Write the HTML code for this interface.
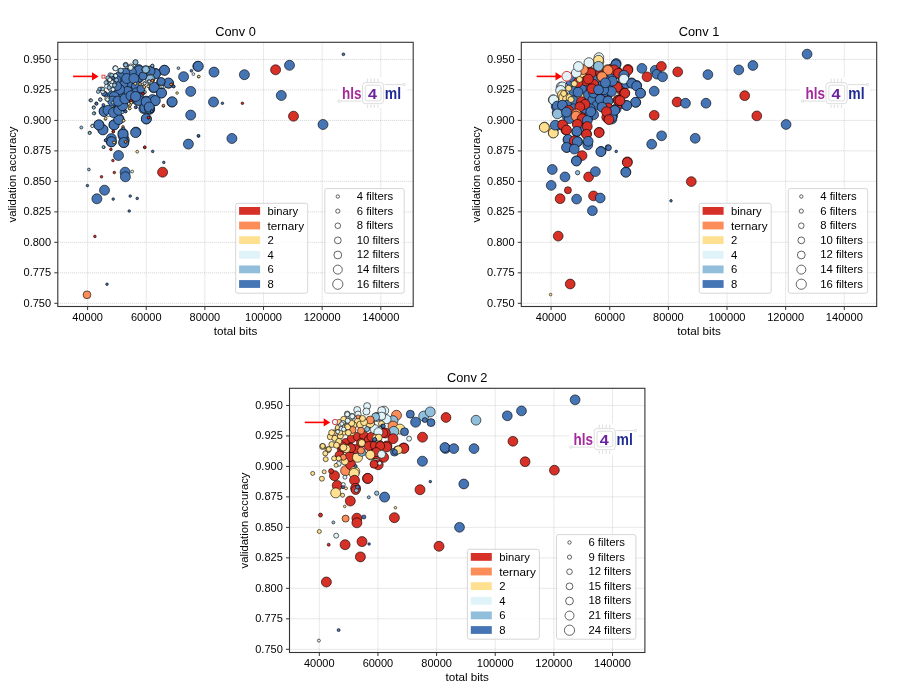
<!DOCTYPE html>
<html><head><meta charset="utf-8"><style>
html,body{margin:0;padding:0;background:#fff;}
body{width:923px;height:691px;overflow:hidden;}
svg{display:block;font-family:"Liberation Sans", sans-serif;will-change:transform;}
</style></head><body>
<svg width="923" height="691" viewBox="0 0 923 691">
<rect width="923" height="691" fill="#fff"/>
<g transform="translate(0.0,0.0)">
<path d="M87.60 42.3V306.5M146.24 42.3V306.5M204.88 42.3V306.5M263.52 42.3V306.5M322.16 42.3V306.5M380.80 42.3V306.5M57.8 59.45H413.2M57.8 89.93H413.2M57.8 120.41H413.2M57.8 150.89H413.2M57.8 181.38H413.2M57.8 211.86H413.2M57.8 242.34H413.2M57.8 272.82H413.2M57.8 303.30H413.2" stroke="#b0b0b0" stroke-width="0.8" stroke-dasharray="1,1" fill="none" opacity="0.7"/>
</g>
<g stroke="#000" stroke-width="0.6">
<circle cx="164.4" cy="70.2" r="5.0" fill="#4575b4"/>
<circle cx="155.6" cy="73.5" r="5.0" fill="#4575b4"/>
<circle cx="151.0" cy="71.5" r="5.0" fill="#4575b4"/>
<circle cx="183.6" cy="76.7" r="5.0" fill="#4575b4"/>
<circle cx="197.8" cy="66.3" r="5.0" fill="#4575b4"/>
<circle cx="168.6" cy="83.2" r="5.0" fill="#4575b4"/>
<circle cx="153.6" cy="87.8" r="5.0" fill="#4575b4"/>
<circle cx="161.4" cy="93.0" r="5.0" fill="#4575b4"/>
<circle cx="190.7" cy="91.4" r="5.0" fill="#4575b4"/>
<circle cx="154.9" cy="100.8" r="5.0" fill="#4575b4"/>
<circle cx="171.9" cy="102.1" r="5.0" fill="#4575b4"/>
<circle cx="146.4" cy="102.1" r="5.0" fill="#4575b4"/>
<circle cx="149.7" cy="109.3" r="5.0" fill="#4575b4"/>
<circle cx="143.8" cy="108.6" r="5.0" fill="#4575b4"/>
<circle cx="146.4" cy="119.0" r="5.0" fill="#4575b4"/>
<circle cx="190.7" cy="115.1" r="5.0" fill="#4575b4"/>
<circle cx="136.0" cy="132.1" r="5.0" fill="#4575b4"/>
<circle cx="123.0" cy="133.4" r="5.0" fill="#4575b4"/>
<circle cx="113.9" cy="124.9" r="5.0" fill="#4575b4"/>
<circle cx="102.8" cy="129.5" r="5.0" fill="#4575b4"/>
<circle cx="98.9" cy="124.9" r="5.0" fill="#4575b4"/>
<circle cx="119.1" cy="119.1" r="5.0" fill="#4575b4"/>
<circle cx="104.1" cy="111.2" r="5.0" fill="#4575b4"/>
<circle cx="115.2" cy="111.2" r="5.0" fill="#4575b4"/>
<circle cx="119.1" cy="108.6" r="5.0" fill="#4575b4"/>
<circle cx="137.3" cy="100.2" r="5.0" fill="#4575b4"/>
<circle cx="113.9" cy="100.8" r="5.0" fill="#4575b4"/>
<circle cx="123.0" cy="102.1" r="5.0" fill="#4575b4"/>
<circle cx="132.1" cy="94.3" r="5.0" fill="#4575b4"/>
<circle cx="138.6" cy="91.7" r="5.0" fill="#4575b4"/>
<circle cx="119.1" cy="93.0" r="5.0" fill="#4575b4"/>
<circle cx="112.6" cy="95.6" r="5.0" fill="#4575b4"/>
<circle cx="124.3" cy="86.5" r="5.0" fill="#4575b4"/>
<circle cx="134.7" cy="86.5" r="5.0" fill="#4575b4"/>
<circle cx="138.6" cy="78.0" r="5.0" fill="#4575b4"/>
<circle cx="129.5" cy="80.0" r="5.0" fill="#4575b4"/>
<circle cx="121.7" cy="82.6" r="5.0" fill="#4575b4"/>
<circle cx="126.9" cy="73.5" r="5.0" fill="#4575b4"/>
<circle cx="134.7" cy="72.2" r="5.0" fill="#4575b4"/>
<circle cx="138.6" cy="69.5" r="5.0" fill="#4575b4"/>
<circle cx="111.3" cy="138.6" r="5.0" fill="#4575b4"/>
<circle cx="124.3" cy="139.9" r="5.0" fill="#4575b4"/>
<circle cx="198.3" cy="66.3" r="5.0" fill="#4575b4"/>
<circle cx="214.0" cy="72.1" r="5.0" fill="#4575b4"/>
<circle cx="244.4" cy="74.7" r="5.0" fill="#4575b4"/>
<circle cx="275.6" cy="69.8" r="5.0" fill="#d73027"/>
<circle cx="289.5" cy="65.3" r="5.0" fill="#4575b4"/>
<circle cx="281.3" cy="95.5" r="5.0" fill="#4575b4"/>
<circle cx="213.5" cy="102.0" r="5.0" fill="#4575b4"/>
<circle cx="293.5" cy="116.2" r="5.0" fill="#d73027"/>
<circle cx="323.0" cy="124.5" r="5.0" fill="#4575b4"/>
<circle cx="231.9" cy="138.5" r="5.0" fill="#4575b4"/>
<circle cx="111.2" cy="141.8" r="5.0" fill="#4575b4"/>
<circle cx="123.8" cy="142.6" r="5.0" fill="#4575b4"/>
<circle cx="123.1" cy="135.8" r="5.0" fill="#4575b4"/>
<circle cx="118.5" cy="155.5" r="5.0" fill="#4575b4"/>
<circle cx="188.4" cy="144.1" r="5.0" fill="#4575b4"/>
<circle cx="125.1" cy="172.2" r="5.0" fill="#4575b4"/>
<circle cx="125.4" cy="176.8" r="5.0" fill="#4575b4"/>
<circle cx="162.6" cy="172.2" r="5.0" fill="#d73027"/>
<circle cx="104.5" cy="190.2" r="5.0" fill="#4575b4"/>
<circle cx="96.9" cy="198.8" r="5.0" fill="#4575b4"/>
<circle cx="138.4" cy="77.2" r="5.0" fill="#4575b4"/>
<circle cx="129.3" cy="82.4" r="5.0" fill="#4575b4"/>
<circle cx="122.8" cy="84.3" r="5.0" fill="#4575b4"/>
<circle cx="136.5" cy="86.3" r="5.0" fill="#4575b4"/>
<circle cx="127.4" cy="91.5" r="5.0" fill="#4575b4"/>
<circle cx="136.5" cy="92.8" r="5.0" fill="#4575b4"/>
<circle cx="119.5" cy="94.0" r="5.0" fill="#4575b4"/>
<circle cx="139.0" cy="70.6" r="5.0" fill="#4575b4"/>
<circle cx="131.3" cy="72.0" r="5.0" fill="#4575b4"/>
<circle cx="124.8" cy="73.2" r="5.0" fill="#4575b4"/>
<circle cx="119.5" cy="76.5" r="5.0" fill="#4575b4"/>
<circle cx="126.7" cy="78.5" r="5.0" fill="#4575b4"/>
<circle cx="133.9" cy="78.5" r="5.0" fill="#4575b4"/>
<circle cx="119.5" cy="89.5" r="5.0" fill="#4575b4"/>
<circle cx="114.3" cy="96.7" r="5.0" fill="#4575b4"/>
<circle cx="131.3" cy="98.0" r="5.0" fill="#4575b4"/>
<circle cx="139.0" cy="98.0" r="5.0" fill="#4575b4"/>
<circle cx="135.6" cy="132.6" r="5.0" fill="#4575b4"/>
<circle cx="123.0" cy="134.1" r="5.0" fill="#4575b4"/>
<circle cx="123.7" cy="142.5" r="5.0" fill="#4575b4"/>
<circle cx="111.5" cy="141.8" r="5.0" fill="#4575b4"/>
<circle cx="114.1" cy="124.9" r="5.0" fill="#4575b4"/>
<circle cx="118.7" cy="119.5" r="5.0" fill="#4575b4"/>
<circle cx="103.0" cy="129.9" r="5.0" fill="#4575b4"/>
<circle cx="98.8" cy="124.9" r="5.0" fill="#4575b4"/>
<circle cx="104.2" cy="111.5" r="5.0" fill="#4575b4"/>
<circle cx="108.0" cy="110.3" r="5.0" fill="#4575b4"/>
<circle cx="113.4" cy="112.6" r="5.0" fill="#4575b4"/>
<circle cx="118.7" cy="110.3" r="5.0" fill="#4575b4"/>
<circle cx="122.6" cy="105.7" r="5.0" fill="#4575b4"/>
<circle cx="112.6" cy="101.1" r="5.0" fill="#4575b4"/>
<circle cx="118.0" cy="101.1" r="5.0" fill="#4575b4"/>
<circle cx="124.9" cy="98.8" r="5.0" fill="#4575b4"/>
<circle cx="138.7" cy="100.4" r="5.0" fill="#4575b4"/>
<circle cx="146.3" cy="101.1" r="5.0" fill="#4575b4"/>
<circle cx="144.8" cy="108.0" r="5.0" fill="#4575b4"/>
<circle cx="149.4" cy="108.8" r="5.0" fill="#4575b4"/>
<circle cx="152.5" cy="99.6" r="5.0" fill="#4575b4"/>
<circle cx="146.3" cy="118.8" r="5.0" fill="#4575b4"/>
<circle cx="131.0" cy="95.8" r="5.0" fill="#4575b4"/>
<circle cx="135.6" cy="96.5" r="5.0" fill="#4575b4"/>
<circle cx="164.5" cy="70.3" r="5.0" fill="#4575b4"/>
<circle cx="155.3" cy="73.8" r="5.0" fill="#4575b4"/>
<circle cx="150.0" cy="71.1" r="5.0" fill="#4575b4"/>
<circle cx="168.4" cy="83.0" r="5.0" fill="#4575b4"/>
<circle cx="154.2" cy="87.2" r="5.0" fill="#4575b4"/>
<circle cx="161.5" cy="93.0" r="5.0" fill="#4575b4"/>
<circle cx="155.3" cy="100.6" r="5.0" fill="#4575b4"/>
<circle cx="146.1" cy="101.8" r="5.0" fill="#4575b4"/>
<circle cx="172.2" cy="101.8" r="5.0" fill="#4575b4"/>
<circle cx="149.2" cy="107.1" r="5.0" fill="#4575b4"/>
<circle cx="150.4" cy="78.7" r="4.5" fill="#91bfdb"/>
<circle cx="116.5" cy="80.0" r="4.5" fill="#4575b4"/>
<circle cx="117.0" cy="86.0" r="4.5" fill="#4575b4"/>
<circle cx="150.0" cy="79.5" r="4.5" fill="#91bfdb"/>
<circle cx="160.8" cy="81.9" r="4.2" fill="#4575b4"/>
<circle cx="145.8" cy="69.5" r="4.0" fill="#91bfdb"/>
<circle cx="143.0" cy="76.0" r="4.0" fill="#4575b4"/>
<circle cx="141.0" cy="89.0" r="4.0" fill="#4575b4"/>
<circle cx="161.1" cy="81.5" r="4.0" fill="#4575b4"/>
<circle cx="87.0" cy="294.8" r="3.9" fill="#fc8d59"/>
<circle cx="145.6" cy="70.0" r="3.5" fill="#91bfdb"/>
<circle cx="145.8" cy="69.6" r="3.5" fill="#91bfdb"/>
<circle cx="130.8" cy="66.9" r="3.0" fill="#e0f3f8"/>
<circle cx="135.4" cy="62.4" r="2.5" fill="#91bfdb"/>
<circle cx="120.4" cy="70.8" r="2.5" fill="#91bfdb"/>
<circle cx="115.2" cy="68.2" r="2.5" fill="#e0f3f8"/>
<circle cx="105.4" cy="94.3" r="2.5" fill="#4575b4"/>
<circle cx="115.6" cy="68.4" r="2.5" fill="#e0f3f8"/>
<circle cx="125.7" cy="64.8" r="2.5" fill="#91bfdb"/>
<circle cx="135.5" cy="62.2" r="2.5" fill="#91bfdb"/>
<circle cx="130.6" cy="67.7" r="2.5" fill="#e0f3f8"/>
<circle cx="120.8" cy="70.6" r="2.5" fill="#91bfdb"/>
<circle cx="110.4" cy="84.3" r="2.5" fill="#e0f3f8"/>
<circle cx="114.3" cy="84.3" r="2.5" fill="#91bfdb"/>
<circle cx="103.9" cy="93.4" r="2.5" fill="#4575b4"/>
<circle cx="107.2" cy="98.8" r="2.5" fill="#e0f3f8"/>
<circle cx="125.6" cy="65.0" r="2.0" fill="#91bfdb"/>
<circle cx="110.0" cy="74.8" r="2.0" fill="#91bfdb"/>
<circle cx="112.6" cy="77.4" r="2.0" fill="#e0f3f8"/>
<circle cx="115.2" cy="75.4" r="2.0" fill="#91bfdb"/>
<circle cx="108.7" cy="80.0" r="2.0" fill="#91bfdb"/>
<circle cx="111.9" cy="81.9" r="2.0" fill="#e0f3f8"/>
<circle cx="107.4" cy="85.2" r="2.0" fill="#91bfdb"/>
<circle cx="111.3" cy="85.2" r="2.0" fill="#e0f3f8"/>
<circle cx="114.5" cy="85.2" r="2.0" fill="#91bfdb"/>
<circle cx="110.0" cy="89.1" r="2.0" fill="#e0f3f8"/>
<circle cx="106.0" cy="82.6" r="2.0" fill="#91bfdb"/>
<circle cx="116.5" cy="80.0" r="2.0" fill="#91bfdb"/>
<circle cx="108.0" cy="78.7" r="2.0" fill="#e0f3f8"/>
<circle cx="115.6" cy="75.8" r="2.0" fill="#e0f3f8"/>
<circle cx="111.7" cy="75.2" r="2.0" fill="#91bfdb"/>
<circle cx="107.8" cy="77.8" r="2.0" fill="#91bfdb"/>
<circle cx="109.8" cy="79.8" r="2.0" fill="#e0f3f8"/>
<circle cx="106.5" cy="86.3" r="2.0" fill="#e0f3f8"/>
<circle cx="109.1" cy="87.6" r="2.0" fill="#91bfdb"/>
<circle cx="113.0" cy="89.5" r="2.0" fill="#e0f3f8"/>
<circle cx="101.3" cy="88.9" r="2.0" fill="#91bfdb"/>
<circle cx="102.6" cy="91.5" r="2.0" fill="#e0f3f8"/>
<circle cx="99.5" cy="89.1" r="1.8" fill="#91bfdb"/>
<circle cx="98.2" cy="91.7" r="1.8" fill="#91bfdb"/>
<circle cx="102.8" cy="89.1" r="1.8" fill="#91bfdb"/>
<circle cx="107.4" cy="99.5" r="1.8" fill="#e0f3f8"/>
<circle cx="100.3" cy="99.6" r="1.8" fill="#e0f3f8"/>
<circle cx="152.3" cy="66.3" r="1.5" fill="#91bfdb"/>
<circle cx="90.4" cy="100.2" r="1.5" fill="#91bfdb"/>
<circle cx="96.3" cy="103.4" r="1.5" fill="#4575b4"/>
<circle cx="93.7" cy="107.3" r="1.5" fill="#91bfdb"/>
<circle cx="100.2" cy="99.5" r="1.5" fill="#91bfdb"/>
<circle cx="94.3" cy="113.2" r="1.5" fill="#91bfdb"/>
<circle cx="89.8" cy="132.7" r="1.5" fill="#91bfdb"/>
<circle cx="92.4" cy="125.6" r="1.5" fill="#e0f3f8"/>
<circle cx="81.3" cy="127.5" r="1.5" fill="#91bfdb"/>
<circle cx="152.4" cy="65.7" r="1.5" fill="#91bfdb"/>
<circle cx="113.0" cy="77.8" r="1.5" fill="#4575b4"/>
<circle cx="148.9" cy="81.1" r="1.5" fill="#e0f3f8"/>
<circle cx="91.1" cy="100.4" r="1.5" fill="#91bfdb"/>
<circle cx="96.5" cy="103.8" r="1.5" fill="#4575b4"/>
<circle cx="93.8" cy="107.7" r="1.5" fill="#91bfdb"/>
<circle cx="93.8" cy="113.4" r="1.5" fill="#91bfdb"/>
<circle cx="103.4" cy="105.0" r="1.5" fill="#4575b4"/>
<circle cx="92.3" cy="126.1" r="1.5" fill="#e0f3f8"/>
<circle cx="89.6" cy="133.0" r="1.5" fill="#91bfdb"/>
<circle cx="152.3" cy="65.7" r="1.5" fill="#91bfdb"/>
<circle cx="178.4" cy="68.2" r="1.4" fill="#91bfdb"/>
<circle cx="191.4" cy="70.8" r="1.4" fill="#4575b4"/>
<circle cx="193.4" cy="74.1" r="1.4" fill="#e0f3f8"/>
<circle cx="173.8" cy="86.5" r="1.4" fill="#4575b4"/>
<circle cx="162.0" cy="87.1" r="1.4" fill="#e0f3f8"/>
<circle cx="164.0" cy="87.1" r="1.4" fill="#e0f3f8"/>
<circle cx="144.5" cy="83.2" r="1.4" fill="#e0f3f8"/>
<circle cx="144.5" cy="92.3" r="1.4" fill="#e0f3f8"/>
<circle cx="151.7" cy="111.2" r="1.4" fill="#4575b4"/>
<circle cx="136.0" cy="107.3" r="1.4" fill="#4575b4"/>
<circle cx="125.6" cy="111.2" r="1.4" fill="#4575b4"/>
<circle cx="198.6" cy="136.0" r="1.4" fill="#4575b4"/>
<circle cx="343.4" cy="54.3" r="1.4" fill="#4575b4"/>
<circle cx="103.8" cy="147.2" r="1.4" fill="#91bfdb"/>
<circle cx="105.6" cy="140.3" r="1.4" fill="#4575b4"/>
<circle cx="137.2" cy="151.7" r="1.4" fill="#fee090"/>
<circle cx="88.9" cy="169.5" r="1.4" fill="#91bfdb"/>
<circle cx="132.2" cy="171.5" r="1.4" fill="#e0f3f8"/>
<circle cx="144.3" cy="83.3" r="1.4" fill="#e0f3f8"/>
<circle cx="145.0" cy="92.1" r="1.4" fill="#91bfdb"/>
<circle cx="112.6" cy="102.7" r="1.4" fill="#91bfdb"/>
<circle cx="135.6" cy="107.3" r="1.4" fill="#4575b4"/>
<circle cx="122.6" cy="112.3" r="1.4" fill="#91bfdb"/>
<circle cx="125.6" cy="111.5" r="1.4" fill="#4575b4"/>
<circle cx="108.4" cy="115.3" r="1.4" fill="#e0f3f8"/>
<circle cx="105.7" cy="140.2" r="1.4" fill="#4575b4"/>
<circle cx="151.7" cy="111.1" r="1.4" fill="#4575b4"/>
<circle cx="103.4" cy="147.1" r="1.4" fill="#91bfdb"/>
<circle cx="149.2" cy="81.5" r="1.4" fill="#e0f3f8"/>
<circle cx="144.6" cy="83.4" r="1.4" fill="#e0f3f8"/>
<circle cx="173.4" cy="86.4" r="1.4" fill="#4575b4"/>
<circle cx="152.3" cy="80.6" r="1.3" fill="#fc8d59"/>
<circle cx="171.2" cy="84.5" r="1.3" fill="#fc8d59"/>
<circle cx="143.2" cy="93.6" r="1.3" fill="#d73027"/>
<circle cx="163.4" cy="106.0" r="1.3" fill="#fc8d59"/>
<circle cx="148.4" cy="117.8" r="1.3" fill="#d73027"/>
<circle cx="177.1" cy="93.0" r="1.3" fill="#fee090"/>
<circle cx="198.6" cy="76.7" r="1.3" fill="#fee090"/>
<circle cx="144.5" cy="87.1" r="1.3" fill="#fee090"/>
<circle cx="148.4" cy="85.8" r="1.3" fill="#fee090"/>
<circle cx="140.6" cy="84.5" r="1.3" fill="#fee090"/>
<circle cx="135.4" cy="83.6" r="1.3" fill="#fee090"/>
<circle cx="131.5" cy="102.8" r="1.3" fill="#fee090"/>
<circle cx="129.5" cy="106.0" r="1.3" fill="#fee090"/>
<circle cx="129.5" cy="108.6" r="1.3" fill="#fee090"/>
<circle cx="123.6" cy="120.4" r="1.3" fill="#fee090"/>
<circle cx="105.4" cy="119.1" r="1.3" fill="#fee090"/>
<circle cx="130.8" cy="100.8" r="1.3" fill="#d73027"/>
<circle cx="113.2" cy="131.4" r="1.3" fill="#d73027"/>
<circle cx="123.0" cy="128.2" r="1.3" fill="#fc8d59"/>
<circle cx="222.4" cy="103.3" r="1.3" fill="#4575b4"/>
<circle cx="242.4" cy="103.3" r="1.3" fill="#d73027"/>
<circle cx="198.3" cy="135.8" r="1.3" fill="#4575b4"/>
<circle cx="198.8" cy="76.5" r="1.3" fill="#fee090"/>
<circle cx="114.0" cy="142.3" r="1.3" fill="#fee090"/>
<circle cx="125.7" cy="141.8" r="1.3" fill="#fc8d59"/>
<circle cx="110.9" cy="149.4" r="1.3" fill="#d73027"/>
<circle cx="144.7" cy="147.5" r="1.3" fill="#d73027"/>
<circle cx="152.7" cy="151.4" r="1.3" fill="#4575b4"/>
<circle cx="112.9" cy="160.5" r="1.3" fill="#d73027"/>
<circle cx="163.8" cy="162.4" r="1.3" fill="#4575b4"/>
<circle cx="114.3" cy="172.5" r="1.3" fill="#d73027"/>
<circle cx="101.5" cy="176.8" r="1.3" fill="#d73027"/>
<circle cx="87.4" cy="185.6" r="1.3" fill="#4575b4"/>
<circle cx="113.2" cy="199.1" r="1.3" fill="#4575b4"/>
<circle cx="130.2" cy="196.1" r="1.3" fill="#4575b4"/>
<circle cx="137.2" cy="198.4" r="1.3" fill="#4575b4"/>
<circle cx="129.2" cy="211.0" r="1.3" fill="#4575b4"/>
<circle cx="94.9" cy="236.4" r="1.3" fill="#d73027"/>
<circle cx="107.0" cy="284.2" r="1.3" fill="#4575b4"/>
<circle cx="152.4" cy="80.4" r="1.3" fill="#fc8d59"/>
<circle cx="135.2" cy="83.7" r="1.3" fill="#fee090"/>
<circle cx="140.0" cy="84.0" r="1.3" fill="#fee090"/>
<circle cx="144.3" cy="86.9" r="1.3" fill="#fee090"/>
<circle cx="148.2" cy="86.3" r="1.3" fill="#fee090"/>
<circle cx="143.0" cy="93.8" r="1.3" fill="#d73027"/>
<circle cx="131.0" cy="100.8" r="1.3" fill="#d73027"/>
<circle cx="131.4" cy="102.7" r="1.3" fill="#fee090"/>
<circle cx="130.2" cy="105.0" r="1.3" fill="#fee090"/>
<circle cx="129.9" cy="108.4" r="1.3" fill="#fee090"/>
<circle cx="105.7" cy="118.4" r="1.3" fill="#fee090"/>
<circle cx="123.7" cy="120.7" r="1.3" fill="#fee090"/>
<circle cx="113.4" cy="131.8" r="1.3" fill="#d73027"/>
<circle cx="123.0" cy="126.8" r="1.3" fill="#fc8d59"/>
<circle cx="123.3" cy="128.4" r="1.3" fill="#4575b4"/>
<circle cx="114.1" cy="142.5" r="1.3" fill="#fee090"/>
<circle cx="125.6" cy="141.8" r="1.3" fill="#fc8d59"/>
<circle cx="148.7" cy="117.6" r="1.3" fill="#d73027"/>
<circle cx="144.8" cy="147.1" r="1.3" fill="#d73027"/>
<circle cx="152.3" cy="80.7" r="1.3" fill="#fc8d59"/>
<circle cx="171.1" cy="84.5" r="1.3" fill="#fc8d59"/>
<circle cx="160.7" cy="86.8" r="1.3" fill="#e0f3f8"/>
<circle cx="162.2" cy="86.8" r="1.3" fill="#e0f3f8"/>
<circle cx="163.4" cy="105.6" r="1.3" fill="#fc8d59"/>
</g>
<g transform="translate(0.0,0.0)">
<rect x="57.8" y="42.3" width="355.40" height="264.20" fill="none" stroke="#333" stroke-width="1.1"/>
<path d="M87.60 306.5V310.0M146.24 306.5V310.0M204.88 306.5V310.0M263.52 306.5V310.0M322.16 306.5V310.0M380.80 306.5V310.0M57.8 59.45H54.3M57.8 89.93H54.3M57.8 120.41H54.3M57.8 150.89H54.3M57.8 181.38H54.3M57.8 211.86H54.3M57.8 242.34H54.3M57.8 272.82H54.3M57.8 303.30H54.3" stroke="#333" stroke-width="1" fill="none"/>
<text x="87.60" y="320.90" font-size="10.2" text-anchor="middle" fill="#000" textLength="30.6" lengthAdjust="spacingAndGlyphs">40000</text>
<text x="146.24" y="320.90" font-size="10.2" text-anchor="middle" fill="#000" textLength="30.6" lengthAdjust="spacingAndGlyphs">60000</text>
<text x="204.88" y="320.90" font-size="10.2" text-anchor="middle" fill="#000" textLength="30.6" lengthAdjust="spacingAndGlyphs">80000</text>
<text x="263.52" y="320.90" font-size="10.2" text-anchor="middle" fill="#000" textLength="37.0" lengthAdjust="spacingAndGlyphs">100000</text>
<text x="322.16" y="320.90" font-size="10.2" text-anchor="middle" fill="#000" textLength="37.0" lengthAdjust="spacingAndGlyphs">120000</text>
<text x="380.80" y="320.90" font-size="10.2" text-anchor="middle" fill="#000" textLength="37.0" lengthAdjust="spacingAndGlyphs">140000</text>
<text x="51.10" y="62.85" font-size="10.2" text-anchor="end" fill="#000" textLength="27.6" lengthAdjust="spacingAndGlyphs">0.950</text>
<text x="51.10" y="93.33" font-size="10.2" text-anchor="end" fill="#000" textLength="27.6" lengthAdjust="spacingAndGlyphs">0.925</text>
<text x="51.10" y="123.81" font-size="10.2" text-anchor="end" fill="#000" textLength="27.6" lengthAdjust="spacingAndGlyphs">0.900</text>
<text x="51.10" y="154.29" font-size="10.2" text-anchor="end" fill="#000" textLength="27.6" lengthAdjust="spacingAndGlyphs">0.875</text>
<text x="51.10" y="184.78" font-size="10.2" text-anchor="end" fill="#000" textLength="27.6" lengthAdjust="spacingAndGlyphs">0.850</text>
<text x="51.10" y="215.26" font-size="10.2" text-anchor="end" fill="#000" textLength="27.6" lengthAdjust="spacingAndGlyphs">0.825</text>
<text x="51.10" y="245.74" font-size="10.2" text-anchor="end" fill="#000" textLength="27.6" lengthAdjust="spacingAndGlyphs">0.800</text>
<text x="51.10" y="276.22" font-size="10.2" text-anchor="end" fill="#000" textLength="27.6" lengthAdjust="spacingAndGlyphs">0.775</text>
<text x="51.10" y="306.70" font-size="10.2" text-anchor="end" fill="#000" textLength="27.6" lengthAdjust="spacingAndGlyphs">0.750</text>
<text x="235.50" y="334.50" font-size="10.2" text-anchor="middle" fill="#000" textLength="43.6" lengthAdjust="spacingAndGlyphs">total bits</text>
<text x="0" y="0" font-size="10.2" text-anchor="middle" textLength="96" lengthAdjust="spacingAndGlyphs" transform="translate(16.0,174.5) rotate(-90)">validation accuracy</text>
<text x="235.50" y="36.00" font-size="12.2" text-anchor="middle" fill="#000" textLength="40.6" lengthAdjust="spacingAndGlyphs">Conv 0</text>
<rect x="337" y="77.5" width="69.5" height="31" fill="#fff"/>
<g fill="none" stroke="#d9d9d9" stroke-width="0.9">
<rect x="362.5" y="82.6" width="21.1" height="21.1" rx="3"/>
<rect x="365.3" y="85.2" width="15.8" height="15.6" rx="2"/>
<path d="M367.6 78.7V81.9M370.9 78.7V81.9M374.4 78.7V81.9M378 78.7V81.9M367.6 104.9V107.8M370.9 104.9V107.8M374.4 104.9V107.8M378 104.9V107.8M340.3 101.1H361.4M384.8 84.6H402.7"/>
<circle cx="339.1" cy="101.1" r="1.2"/><circle cx="403.9" cy="84.6" r="1.2"/>
</g>
<text x="341.9" y="98.6" font-size="15.8" font-weight="bold" fill="#a4299d" textLength="19.5" lengthAdjust="spacingAndGlyphs">hls</text>
<text x="368" y="98.6" font-size="15.2" font-weight="bold" fill="#6a22a0" textLength="9" lengthAdjust="spacingAndGlyphs">4</text>
<text x="384.8" y="98.6" font-size="15.8" font-weight="bold" fill="#1f2b94" textLength="16.3" lengthAdjust="spacingAndGlyphs">ml</text>
<rect x="102.0" y="75.2" width="2.9" height="2.9" fill="#f4f8fa" stroke="#e03a3e" stroke-width="0.9"/>
<path d="M73.1 76.4H93" stroke="#ff0000" stroke-width="1.6" fill="none"/>
<path d="M92 72.3L98.6 76.4L92 80.5Z" fill="#ff0000"/>
<rect x="235.7" y="203.3" width="72" height="89.9" rx="2" fill="#fff" fill-opacity="0.8" stroke="#ccc" stroke-width="0.8"/>
<rect x="239.1" y="207.00" width="21" height="7.8" fill="#d73027"/>
<text x="267.60" y="214.90" font-size="10.2" text-anchor="start" fill="#000" textLength="30.6" lengthAdjust="spacingAndGlyphs">binary</text>
<rect x="239.1" y="221.62" width="21" height="7.8" fill="#fc8d59"/>
<text x="267.60" y="229.52" font-size="10.2" text-anchor="start" fill="#000" textLength="36.5" lengthAdjust="spacingAndGlyphs">ternary</text>
<rect x="239.1" y="236.24" width="21" height="7.8" fill="#fee090"/>
<text x="267.60" y="244.14" font-size="10.2" text-anchor="start" fill="#000" textLength="6.3" lengthAdjust="spacingAndGlyphs">2</text>
<rect x="239.1" y="250.86" width="21" height="7.8" fill="#e0f3f8"/>
<text x="267.60" y="258.76" font-size="10.2" text-anchor="start" fill="#000" textLength="6.3" lengthAdjust="spacingAndGlyphs">4</text>
<rect x="239.1" y="265.48" width="21" height="7.8" fill="#91bfdb"/>
<text x="267.60" y="273.38" font-size="10.2" text-anchor="start" fill="#000" textLength="6.3" lengthAdjust="spacingAndGlyphs">6</text>
<rect x="239.1" y="280.10" width="21" height="7.8" fill="#4575b4"/>
<text x="267.60" y="288.00" font-size="10.2" text-anchor="start" fill="#000" textLength="6.3" lengthAdjust="spacingAndGlyphs">8</text>
<rect x="324.8" y="188.6" width="79.4" height="104.6" rx="2" fill="#fff" fill-opacity="0.8" stroke="#ccc" stroke-width="0.8"/>
<circle cx="337.8" cy="196.50" r="1.7" fill="none" stroke="#222" stroke-width="0.7"/>
<text x="356.70" y="200.00" font-size="10.2" text-anchor="start" fill="#000" textLength="36.5" lengthAdjust="spacingAndGlyphs">4 filters</text>
<circle cx="337.8" cy="211.12" r="2.1" fill="none" stroke="#222" stroke-width="0.7"/>
<text x="356.70" y="214.62" font-size="10.2" text-anchor="start" fill="#000" textLength="36.5" lengthAdjust="spacingAndGlyphs">6 filters</text>
<circle cx="337.8" cy="225.74" r="2.8" fill="none" stroke="#222" stroke-width="0.7"/>
<text x="356.70" y="229.24" font-size="10.2" text-anchor="start" fill="#000" textLength="36.5" lengthAdjust="spacingAndGlyphs">8 filters</text>
<circle cx="337.8" cy="240.36" r="3.4" fill="none" stroke="#222" stroke-width="0.7"/>
<text x="356.70" y="243.86" font-size="10.2" text-anchor="start" fill="#000" textLength="42.8" lengthAdjust="spacingAndGlyphs">10 filters</text>
<circle cx="337.8" cy="254.98" r="3.9" fill="none" stroke="#222" stroke-width="0.7"/>
<text x="356.70" y="258.48" font-size="10.2" text-anchor="start" fill="#000" textLength="42.8" lengthAdjust="spacingAndGlyphs">12 filters</text>
<circle cx="337.8" cy="269.60" r="4.5" fill="none" stroke="#222" stroke-width="0.7"/>
<text x="356.70" y="273.10" font-size="10.2" text-anchor="start" fill="#000" textLength="42.8" lengthAdjust="spacingAndGlyphs">14 filters</text>
<circle cx="337.8" cy="284.22" r="5.1" fill="none" stroke="#222" stroke-width="0.7"/>
<text x="356.70" y="287.72" font-size="10.2" text-anchor="start" fill="#000" textLength="42.8" lengthAdjust="spacingAndGlyphs">16 filters</text>
</g>
<g transform="translate(463.5,0.0)">
<path d="M87.60 42.3V306.5M146.24 42.3V306.5M204.88 42.3V306.5M263.52 42.3V306.5M322.16 42.3V306.5M380.80 42.3V306.5M57.8 59.45H413.2M57.8 89.93H413.2M57.8 120.41H413.2M57.8 150.89H413.2M57.8 181.38H413.2M57.8 211.86H413.2M57.8 242.34H413.2M57.8 272.82H413.2M57.8 303.30H413.2" stroke="#b0b0b0" stroke-width="0.8" stroke-dasharray="1,1" fill="none" opacity="0.7"/>
</g>
<g stroke="#000" stroke-width="0.6">
<circle cx="566.9" cy="147.5" r="4.9" fill="#4575b4"/>
<circle cx="577.7" cy="141.7" r="4.9" fill="#4575b4"/>
<circle cx="567.9" cy="139.7" r="4.9" fill="#4575b4"/>
<circle cx="572.8" cy="141.7" r="4.9" fill="#d73027"/>
<circle cx="586.5" cy="133.9" r="4.9" fill="#d73027"/>
<circle cx="585.5" cy="128.0" r="4.9" fill="#d73027"/>
<circle cx="577.7" cy="124.1" r="4.9" fill="#d73027"/>
<circle cx="576.7" cy="131.9" r="4.9" fill="#4575b4"/>
<circle cx="565.9" cy="130.0" r="4.9" fill="#d73027"/>
<circle cx="562.0" cy="125.1" r="4.9" fill="#d73027"/>
<circle cx="556.2" cy="126.0" r="4.9" fill="#4575b4"/>
<circle cx="544.5" cy="127.0" r="4.9" fill="#fee090"/>
<circle cx="553.2" cy="132.9" r="4.9" fill="#fee090"/>
<circle cx="557.2" cy="112.4" r="4.9" fill="#91bfdb"/>
<circle cx="556.2" cy="106.5" r="4.9" fill="#4575b4"/>
<circle cx="553.2" cy="99.7" r="4.9" fill="#e0f3f8"/>
<circle cx="561.1" cy="87.0" r="4.9" fill="#e0f3f8"/>
<circle cx="563.0" cy="94.8" r="4.9" fill="#fee090"/>
<circle cx="587.4" cy="119.2" r="4.9" fill="#4575b4"/>
<circle cx="575.7" cy="115.3" r="4.9" fill="#fc8d59"/>
<circle cx="569.9" cy="116.3" r="4.9" fill="#4575b4"/>
<circle cx="598.9" cy="61.7" r="4.9" fill="#fee090"/>
<circle cx="598.0" cy="66.5" r="4.9" fill="#91bfdb"/>
<circle cx="562.4" cy="86.9" r="4.9" fill="#e0f3f8"/>
<circle cx="560.6" cy="90.4" r="4.9" fill="#e0f3f8"/>
<circle cx="553.7" cy="100.0" r="4.9" fill="#e0f3f8"/>
<circle cx="558.0" cy="113.0" r="4.9" fill="#91bfdb"/>
<circle cx="557.2" cy="106.0" r="4.9" fill="#4575b4"/>
<circle cx="570.2" cy="86.1" r="4.9" fill="#91bfdb"/>
<circle cx="562.4" cy="94.8" r="4.9" fill="#fee090"/>
<circle cx="563.7" cy="97.4" r="4.9" fill="#fee090"/>
<circle cx="567.6" cy="99.1" r="4.9" fill="#fee090"/>
<circle cx="571.1" cy="98.2" r="4.9" fill="#fee090"/>
<circle cx="575.4" cy="86.1" r="4.9" fill="#fee090"/>
<circle cx="578.9" cy="83.5" r="4.9" fill="#fee090"/>
<circle cx="580.6" cy="95.6" r="4.9" fill="#fee090"/>
<circle cx="582.4" cy="76.5" r="4.9" fill="#fee090"/>
<circle cx="616.2" cy="63.5" r="4.9" fill="#4575b4"/>
<circle cx="621.5" cy="75.6" r="4.9" fill="#4575b4"/>
<circle cx="611.9" cy="77.4" r="4.9" fill="#4575b4"/>
<circle cx="605.8" cy="80.9" r="4.9" fill="#4575b4"/>
<circle cx="597.1" cy="80.0" r="4.9" fill="#4575b4"/>
<circle cx="601.5" cy="86.1" r="4.9" fill="#4575b4"/>
<circle cx="609.3" cy="86.9" r="4.9" fill="#4575b4"/>
<circle cx="607.6" cy="93.9" r="4.9" fill="#4575b4"/>
<circle cx="603.2" cy="93.0" r="4.9" fill="#4575b4"/>
<circle cx="585.8" cy="86.9" r="4.9" fill="#4575b4"/>
<circle cx="581.5" cy="88.7" r="4.9" fill="#4575b4"/>
<circle cx="573.7" cy="91.3" r="4.9" fill="#4575b4"/>
<circle cx="588.4" cy="94.8" r="4.9" fill="#4575b4"/>
<circle cx="592.8" cy="100.0" r="4.9" fill="#4575b4"/>
<circle cx="597.1" cy="105.2" r="4.9" fill="#4575b4"/>
<circle cx="602.3" cy="106.9" r="4.9" fill="#4575b4"/>
<circle cx="590.2" cy="108.7" r="4.9" fill="#4575b4"/>
<circle cx="585.0" cy="112.1" r="4.9" fill="#4575b4"/>
<circle cx="573.7" cy="100.8" r="4.9" fill="#4575b4"/>
<circle cx="566.7" cy="105.2" r="4.9" fill="#4575b4"/>
<circle cx="562.4" cy="105.2" r="4.9" fill="#4575b4"/>
<circle cx="566.7" cy="115.6" r="4.9" fill="#4575b4"/>
<circle cx="573.7" cy="108.7" r="4.9" fill="#4575b4"/>
<circle cx="593.7" cy="114.7" r="4.9" fill="#4575b4"/>
<circle cx="612.8" cy="115.6" r="4.9" fill="#4575b4"/>
<circle cx="616.2" cy="108.7" r="4.9" fill="#4575b4"/>
<circle cx="611.9" cy="119.1" r="4.9" fill="#4575b4"/>
<circle cx="587.6" cy="117.3" r="4.9" fill="#4575b4"/>
<circle cx="571.1" cy="81.7" r="4.9" fill="#4575b4"/>
<circle cx="572.8" cy="77.4" r="4.9" fill="#4575b4"/>
<circle cx="587.6" cy="69.6" r="4.9" fill="#d73027"/>
<circle cx="591.0" cy="73.0" r="4.9" fill="#d73027"/>
<circle cx="585.8" cy="80.9" r="4.9" fill="#d73027"/>
<circle cx="593.7" cy="84.3" r="4.9" fill="#d73027"/>
<circle cx="578.0" cy="82.6" r="4.9" fill="#d73027"/>
<circle cx="578.0" cy="92.1" r="4.9" fill="#4575b4"/>
<circle cx="581.5" cy="101.7" r="4.9" fill="#d73027"/>
<circle cx="585.0" cy="104.3" r="4.9" fill="#d73027"/>
<circle cx="593.7" cy="93.0" r="4.9" fill="#4575b4"/>
<circle cx="598.9" cy="90.4" r="4.9" fill="#d73027"/>
<circle cx="600.6" cy="99.1" r="4.9" fill="#d73027"/>
<circle cx="607.6" cy="100.8" r="4.9" fill="#d73027"/>
<circle cx="617.1" cy="86.1" r="4.9" fill="#d73027"/>
<circle cx="622.3" cy="91.3" r="4.9" fill="#d73027"/>
<circle cx="618.0" cy="100.0" r="4.9" fill="#d73027"/>
<circle cx="607.6" cy="107.8" r="4.9" fill="#d73027"/>
<circle cx="600.6" cy="73.0" r="4.9" fill="#d73027"/>
<circle cx="611.9" cy="68.7" r="4.9" fill="#d73027"/>
<circle cx="617.1" cy="71.3" r="4.9" fill="#d73027"/>
<circle cx="568.5" cy="110.4" r="4.9" fill="#d73027"/>
<circle cx="579.8" cy="106.9" r="4.9" fill="#d73027"/>
<circle cx="588.4" cy="79.1" r="4.9" fill="#d73027"/>
<circle cx="591.9" cy="88.7" r="4.9" fill="#d73027"/>
<circle cx="581.5" cy="117.3" r="4.9" fill="#d73027"/>
<circle cx="606.7" cy="117.3" r="4.9" fill="#d73027"/>
<circle cx="621.5" cy="103.4" r="4.9" fill="#d73027"/>
<circle cx="583.2" cy="69.6" r="4.9" fill="#fc8d59"/>
<circle cx="576.3" cy="113.9" r="4.9" fill="#fc8d59"/>
<circle cx="607.6" cy="69.6" r="4.9" fill="#fc8d59"/>
<circle cx="601.5" cy="76.5" r="4.9" fill="#fc8d59"/>
<circle cx="576.3" cy="73.0" r="4.9" fill="#e0f3f8"/>
<circle cx="623.2" cy="78.2" r="4.9" fill="#e0f3f8"/>
<circle cx="578.4" cy="66.5" r="4.9" fill="#e0f3f8"/>
<circle cx="588.9" cy="62.6" r="4.9" fill="#e0f3f8"/>
<circle cx="598.9" cy="57.6" r="4.9" fill="#e0f3f8"/>
<circle cx="598.5" cy="60.2" r="4.9" fill="#fee090"/>
<circle cx="598.5" cy="66.3" r="4.9" fill="#91bfdb"/>
<circle cx="615.9" cy="64.6" r="4.9" fill="#4575b4"/>
<circle cx="614.1" cy="69.8" r="4.9" fill="#d73027"/>
<circle cx="618.5" cy="73.2" r="4.9" fill="#d73027"/>
<circle cx="628.0" cy="69.3" r="4.9" fill="#d73027"/>
<circle cx="608.0" cy="70.2" r="4.9" fill="#fc8d59"/>
<circle cx="602.0" cy="76.7" r="4.9" fill="#fc8d59"/>
<circle cx="624.5" cy="75.0" r="4.9" fill="#4575b4"/>
<circle cx="623.7" cy="80.2" r="4.9" fill="#e0f3f8"/>
<circle cx="626.3" cy="83.7" r="4.9" fill="#4575b4"/>
<circle cx="631.5" cy="82.8" r="4.9" fill="#4575b4"/>
<circle cx="636.7" cy="85.4" r="4.9" fill="#4575b4"/>
<circle cx="640.6" cy="93.2" r="4.9" fill="#4575b4"/>
<circle cx="617.2" cy="87.1" r="4.9" fill="#d73027"/>
<circle cx="624.5" cy="93.2" r="4.9" fill="#d73027"/>
<circle cx="618.5" cy="100.6" r="4.9" fill="#d73027"/>
<circle cx="635.8" cy="102.4" r="4.9" fill="#4575b4"/>
<circle cx="626.3" cy="105.4" r="4.9" fill="#4575b4"/>
<circle cx="611.5" cy="91.5" r="4.9" fill="#4575b4"/>
<circle cx="603.7" cy="89.8" r="4.9" fill="#4575b4"/>
<circle cx="598.5" cy="89.8" r="4.9" fill="#4575b4"/>
<circle cx="600.2" cy="99.3" r="4.9" fill="#4575b4"/>
<circle cx="608.0" cy="101.0" r="4.9" fill="#4575b4"/>
<circle cx="608.0" cy="108.0" r="4.9" fill="#d73027"/>
<circle cx="614.1" cy="110.6" r="4.9" fill="#4575b4"/>
<circle cx="602.0" cy="107.1" r="4.9" fill="#4575b4"/>
<circle cx="612.4" cy="81.1" r="4.9" fill="#4575b4"/>
<circle cx="605.4" cy="82.8" r="4.9" fill="#4575b4"/>
<circle cx="627.8" cy="70.3" r="4.9" fill="#d73027"/>
<circle cx="623.9" cy="75.2" r="4.9" fill="#4575b4"/>
<circle cx="623.9" cy="79.1" r="4.9" fill="#e0f3f8"/>
<circle cx="641.9" cy="68.4" r="4.9" fill="#4575b4"/>
<circle cx="647.0" cy="76.8" r="4.9" fill="#d73027"/>
<circle cx="655.2" cy="70.3" r="4.9" fill="#4575b4"/>
<circle cx="657.1" cy="74.2" r="4.9" fill="#4575b4"/>
<circle cx="661.4" cy="66.4" r="4.9" fill="#d73027"/>
<circle cx="662.6" cy="76.8" r="4.9" fill="#4575b4"/>
<circle cx="677.7" cy="71.9" r="4.9" fill="#d73027"/>
<circle cx="707.9" cy="74.6" r="4.9" fill="#4575b4"/>
<circle cx="738.8" cy="69.9" r="4.9" fill="#4575b4"/>
<circle cx="752.9" cy="65.5" r="4.9" fill="#4575b4"/>
<circle cx="631.7" cy="83.4" r="4.9" fill="#4575b4"/>
<circle cx="636.6" cy="86.0" r="4.9" fill="#4575b4"/>
<circle cx="640.5" cy="93.2" r="4.9" fill="#4575b4"/>
<circle cx="624.9" cy="93.2" r="4.9" fill="#d73027"/>
<circle cx="654.2" cy="91.2" r="4.9" fill="#4575b4"/>
<circle cx="635.6" cy="102.2" r="4.9" fill="#4575b4"/>
<circle cx="626.8" cy="105.5" r="4.9" fill="#4575b4"/>
<circle cx="620.0" cy="100.6" r="4.9" fill="#d73027"/>
<circle cx="677.1" cy="102.0" r="4.9" fill="#d73027"/>
<circle cx="685.5" cy="103.2" r="4.9" fill="#4575b4"/>
<circle cx="706.0" cy="103.2" r="4.9" fill="#4575b4"/>
<circle cx="744.7" cy="95.7" r="4.9" fill="#d73027"/>
<circle cx="654.2" cy="115.3" r="4.9" fill="#d73027"/>
<circle cx="756.8" cy="115.9" r="4.9" fill="#d73027"/>
<circle cx="786.1" cy="124.5" r="4.9" fill="#4575b4"/>
<circle cx="661.6" cy="135.8" r="4.9" fill="#4575b4"/>
<circle cx="651.7" cy="144.2" r="4.9" fill="#4575b4"/>
<circle cx="695.2" cy="138.3" r="4.9" fill="#4575b4"/>
<circle cx="627.4" cy="161.8" r="4.9" fill="#d73027"/>
<circle cx="625.9" cy="172.0" r="4.9" fill="#4575b4"/>
<circle cx="807.1" cy="54.1" r="4.9" fill="#4575b4"/>
<circle cx="608.9" cy="119.2" r="4.9" fill="#d73027"/>
<circle cx="611.9" cy="117.2" r="4.9" fill="#4575b4"/>
<circle cx="614.8" cy="110.4" r="4.9" fill="#4575b4"/>
<circle cx="599.2" cy="132.3" r="4.9" fill="#d73027"/>
<circle cx="601.1" cy="151.4" r="4.9" fill="#4575b4"/>
<circle cx="557.4" cy="113.9" r="4.9" fill="#91bfdb"/>
<circle cx="569.1" cy="118.7" r="4.9" fill="#4575b4"/>
<circle cx="566.5" cy="112.2" r="4.9" fill="#4575b4"/>
<circle cx="576.0" cy="116.1" r="4.9" fill="#fc8d59"/>
<circle cx="582.1" cy="118.7" r="4.9" fill="#d73027"/>
<circle cx="587.3" cy="120.4" r="4.9" fill="#4575b4"/>
<circle cx="590.8" cy="111.7" r="4.9" fill="#4575b4"/>
<circle cx="606.5" cy="111.7" r="4.9" fill="#d73027"/>
<circle cx="609.0" cy="119.6" r="4.9" fill="#d73027"/>
<circle cx="544.3" cy="127.4" r="4.9" fill="#fee090"/>
<circle cx="553.3" cy="133.0" r="4.9" fill="#fee090"/>
<circle cx="555.2" cy="125.2" r="4.9" fill="#4575b4"/>
<circle cx="562.6" cy="124.8" r="4.9" fill="#d73027"/>
<circle cx="566.5" cy="130.0" r="4.9" fill="#d73027"/>
<circle cx="577.3" cy="124.3" r="4.9" fill="#d73027"/>
<circle cx="576.9" cy="131.3" r="4.9" fill="#4575b4"/>
<circle cx="585.6" cy="128.2" r="4.9" fill="#4575b4"/>
<circle cx="587.3" cy="126.5" r="4.9" fill="#d73027"/>
<circle cx="586.5" cy="134.3" r="4.9" fill="#d73027"/>
<circle cx="599.1" cy="132.6" r="4.9" fill="#d73027"/>
<circle cx="568.2" cy="139.5" r="4.9" fill="#4575b4"/>
<circle cx="574.3" cy="140.8" r="4.9" fill="#d73027"/>
<circle cx="577.3" cy="141.7" r="4.9" fill="#4575b4"/>
<circle cx="587.8" cy="144.8" r="4.9" fill="#4575b4"/>
<circle cx="588.2" cy="141.3" r="4.9" fill="#4575b4"/>
<circle cx="566.5" cy="147.4" r="4.9" fill="#4575b4"/>
<circle cx="574.3" cy="149.1" r="4.9" fill="#4575b4"/>
<circle cx="582.1" cy="155.6" r="4.9" fill="#d73027"/>
<circle cx="576.5" cy="160.8" r="4.9" fill="#4575b4"/>
<circle cx="600.8" cy="151.7" r="4.9" fill="#4575b4"/>
<circle cx="552.3" cy="169.5" r="4.9" fill="#4575b4"/>
<circle cx="565.0" cy="176.9" r="4.9" fill="#4575b4"/>
<circle cx="588.6" cy="176.9" r="4.9" fill="#d73027"/>
<circle cx="595.4" cy="171.6" r="4.9" fill="#4575b4"/>
<circle cx="576.4" cy="161.1" r="4.9" fill="#4575b4"/>
<circle cx="627.3" cy="162.5" r="4.9" fill="#d73027"/>
<circle cx="625.8" cy="172.3" r="4.9" fill="#4575b4"/>
<circle cx="551.2" cy="185.4" r="4.9" fill="#4575b4"/>
<circle cx="560.1" cy="198.7" r="4.9" fill="#d73027"/>
<circle cx="576.6" cy="199.1" r="4.9" fill="#4575b4"/>
<circle cx="593.5" cy="195.9" r="4.9" fill="#d73027"/>
<circle cx="600.2" cy="198.0" r="4.9" fill="#4575b4"/>
<circle cx="592.4" cy="210.7" r="4.9" fill="#4575b4"/>
<circle cx="691.3" cy="181.6" r="4.9" fill="#d73027"/>
<circle cx="558.2" cy="236.1" r="4.9" fill="#d73027"/>
<circle cx="570.2" cy="284.0" r="4.9" fill="#d73027"/>
<circle cx="566.8" cy="76.3" r="4.9" fill="#e0f3f8" stroke="#e0303a" stroke-width="1.0"/>
<circle cx="567.9" cy="190.2" r="3.5" fill="#d73027"/>
<circle cx="563.7" cy="93.5" r="3.0" fill="#fee090"/>
<circle cx="568.6" cy="88.2" r="3.0" fill="#fee090"/>
<circle cx="574.3" cy="83.7" r="3.0" fill="#fee090"/>
<circle cx="579.5" cy="79.4" r="3.0" fill="#fee090"/>
<circle cx="571.0" cy="99.5" r="3.0" fill="#fee090"/>
<circle cx="608.0" cy="147.5" r="2.8" fill="#4575b4"/>
<circle cx="608.6" cy="147.8" r="2.8" fill="#4575b4"/>
<circle cx="577.6" cy="172.7" r="2.2" fill="#91bfdb"/>
<circle cx="616.2" cy="151.4" r="1.3" fill="#4575b4"/>
<circle cx="671.0" cy="200.8" r="1.3" fill="#4575b4"/>
<circle cx="550.6" cy="294.6" r="1.3" fill="#fee090"/>
</g>

<g transform="translate(463.5,0.0)">
<rect x="57.8" y="42.3" width="355.40" height="264.20" fill="none" stroke="#333" stroke-width="1.1"/>
<path d="M87.60 306.5V310.0M146.24 306.5V310.0M204.88 306.5V310.0M263.52 306.5V310.0M322.16 306.5V310.0M380.80 306.5V310.0M57.8 59.45H54.3M57.8 89.93H54.3M57.8 120.41H54.3M57.8 150.89H54.3M57.8 181.38H54.3M57.8 211.86H54.3M57.8 242.34H54.3M57.8 272.82H54.3M57.8 303.30H54.3" stroke="#333" stroke-width="1" fill="none"/>
<text x="87.60" y="320.90" font-size="10.2" text-anchor="middle" fill="#000" textLength="30.6" lengthAdjust="spacingAndGlyphs">40000</text>
<text x="146.24" y="320.90" font-size="10.2" text-anchor="middle" fill="#000" textLength="30.6" lengthAdjust="spacingAndGlyphs">60000</text>
<text x="204.88" y="320.90" font-size="10.2" text-anchor="middle" fill="#000" textLength="30.6" lengthAdjust="spacingAndGlyphs">80000</text>
<text x="263.52" y="320.90" font-size="10.2" text-anchor="middle" fill="#000" textLength="37.0" lengthAdjust="spacingAndGlyphs">100000</text>
<text x="322.16" y="320.90" font-size="10.2" text-anchor="middle" fill="#000" textLength="37.0" lengthAdjust="spacingAndGlyphs">120000</text>
<text x="380.80" y="320.90" font-size="10.2" text-anchor="middle" fill="#000" textLength="37.0" lengthAdjust="spacingAndGlyphs">140000</text>
<text x="51.10" y="62.85" font-size="10.2" text-anchor="end" fill="#000" textLength="27.6" lengthAdjust="spacingAndGlyphs">0.950</text>
<text x="51.10" y="93.33" font-size="10.2" text-anchor="end" fill="#000" textLength="27.6" lengthAdjust="spacingAndGlyphs">0.925</text>
<text x="51.10" y="123.81" font-size="10.2" text-anchor="end" fill="#000" textLength="27.6" lengthAdjust="spacingAndGlyphs">0.900</text>
<text x="51.10" y="154.29" font-size="10.2" text-anchor="end" fill="#000" textLength="27.6" lengthAdjust="spacingAndGlyphs">0.875</text>
<text x="51.10" y="184.78" font-size="10.2" text-anchor="end" fill="#000" textLength="27.6" lengthAdjust="spacingAndGlyphs">0.850</text>
<text x="51.10" y="215.26" font-size="10.2" text-anchor="end" fill="#000" textLength="27.6" lengthAdjust="spacingAndGlyphs">0.825</text>
<text x="51.10" y="245.74" font-size="10.2" text-anchor="end" fill="#000" textLength="27.6" lengthAdjust="spacingAndGlyphs">0.800</text>
<text x="51.10" y="276.22" font-size="10.2" text-anchor="end" fill="#000" textLength="27.6" lengthAdjust="spacingAndGlyphs">0.775</text>
<text x="51.10" y="306.70" font-size="10.2" text-anchor="end" fill="#000" textLength="27.6" lengthAdjust="spacingAndGlyphs">0.750</text>
<text x="235.50" y="334.50" font-size="10.2" text-anchor="middle" fill="#000" textLength="43.6" lengthAdjust="spacingAndGlyphs">total bits</text>
<text x="0" y="0" font-size="10.2" text-anchor="middle" textLength="96" lengthAdjust="spacingAndGlyphs" transform="translate(16.0,174.5) rotate(-90)">validation accuracy</text>
<text x="235.50" y="36.00" font-size="12.2" text-anchor="middle" fill="#000" textLength="40.6" lengthAdjust="spacingAndGlyphs">Conv 1</text>
<rect x="337" y="77.5" width="69.5" height="31" fill="#fff"/>
<g fill="none" stroke="#d9d9d9" stroke-width="0.9">
<rect x="362.5" y="82.6" width="21.1" height="21.1" rx="3"/>
<rect x="365.3" y="85.2" width="15.8" height="15.6" rx="2"/>
<path d="M367.6 78.7V81.9M370.9 78.7V81.9M374.4 78.7V81.9M378 78.7V81.9M367.6 104.9V107.8M370.9 104.9V107.8M374.4 104.9V107.8M378 104.9V107.8M340.3 101.1H361.4M384.8 84.6H402.7"/>
<circle cx="339.1" cy="101.1" r="1.2"/><circle cx="403.9" cy="84.6" r="1.2"/>
</g>
<text x="341.9" y="98.6" font-size="15.8" font-weight="bold" fill="#a4299d" textLength="19.5" lengthAdjust="spacingAndGlyphs">hls</text>
<text x="368" y="98.6" font-size="15.2" font-weight="bold" fill="#6a22a0" textLength="9" lengthAdjust="spacingAndGlyphs">4</text>
<text x="384.8" y="98.6" font-size="15.8" font-weight="bold" fill="#1f2b94" textLength="16.3" lengthAdjust="spacingAndGlyphs">ml</text>
<path d="M73.1 76.4H93" stroke="#ff0000" stroke-width="1.6" fill="none"/>
<path d="M92 72.3L98.6 76.4L92 80.5Z" fill="#ff0000"/>
<rect x="235.7" y="203.3" width="72" height="89.9" rx="2" fill="#fff" fill-opacity="0.8" stroke="#ccc" stroke-width="0.8"/>
<rect x="239.1" y="207.00" width="21" height="7.8" fill="#d73027"/>
<text x="267.60" y="214.90" font-size="10.2" text-anchor="start" fill="#000" textLength="30.6" lengthAdjust="spacingAndGlyphs">binary</text>
<rect x="239.1" y="221.62" width="21" height="7.8" fill="#fc8d59"/>
<text x="267.60" y="229.52" font-size="10.2" text-anchor="start" fill="#000" textLength="36.5" lengthAdjust="spacingAndGlyphs">ternary</text>
<rect x="239.1" y="236.24" width="21" height="7.8" fill="#fee090"/>
<text x="267.60" y="244.14" font-size="10.2" text-anchor="start" fill="#000" textLength="6.3" lengthAdjust="spacingAndGlyphs">2</text>
<rect x="239.1" y="250.86" width="21" height="7.8" fill="#e0f3f8"/>
<text x="267.60" y="258.76" font-size="10.2" text-anchor="start" fill="#000" textLength="6.3" lengthAdjust="spacingAndGlyphs">4</text>
<rect x="239.1" y="265.48" width="21" height="7.8" fill="#91bfdb"/>
<text x="267.60" y="273.38" font-size="10.2" text-anchor="start" fill="#000" textLength="6.3" lengthAdjust="spacingAndGlyphs">6</text>
<rect x="239.1" y="280.10" width="21" height="7.8" fill="#4575b4"/>
<text x="267.60" y="288.00" font-size="10.2" text-anchor="start" fill="#000" textLength="6.3" lengthAdjust="spacingAndGlyphs">8</text>
<rect x="324.8" y="188.6" width="79.4" height="104.6" rx="2" fill="#fff" fill-opacity="0.8" stroke="#ccc" stroke-width="0.8"/>
<circle cx="337.8" cy="196.50" r="1.7" fill="none" stroke="#222" stroke-width="0.7"/>
<text x="356.70" y="200.00" font-size="10.2" text-anchor="start" fill="#000" textLength="36.5" lengthAdjust="spacingAndGlyphs">4 filters</text>
<circle cx="337.8" cy="211.12" r="2.1" fill="none" stroke="#222" stroke-width="0.7"/>
<text x="356.70" y="214.62" font-size="10.2" text-anchor="start" fill="#000" textLength="36.5" lengthAdjust="spacingAndGlyphs">6 filters</text>
<circle cx="337.8" cy="225.74" r="2.8" fill="none" stroke="#222" stroke-width="0.7"/>
<text x="356.70" y="229.24" font-size="10.2" text-anchor="start" fill="#000" textLength="36.5" lengthAdjust="spacingAndGlyphs">8 filters</text>
<circle cx="337.8" cy="240.36" r="3.4" fill="none" stroke="#222" stroke-width="0.7"/>
<text x="356.70" y="243.86" font-size="10.2" text-anchor="start" fill="#000" textLength="42.8" lengthAdjust="spacingAndGlyphs">10 filters</text>
<circle cx="337.8" cy="254.98" r="3.9" fill="none" stroke="#222" stroke-width="0.7"/>
<text x="356.70" y="258.48" font-size="10.2" text-anchor="start" fill="#000" textLength="42.8" lengthAdjust="spacingAndGlyphs">12 filters</text>
<circle cx="337.8" cy="269.60" r="4.5" fill="none" stroke="#222" stroke-width="0.7"/>
<text x="356.70" y="273.10" font-size="10.2" text-anchor="start" fill="#000" textLength="42.8" lengthAdjust="spacingAndGlyphs">14 filters</text>
<circle cx="337.8" cy="284.22" r="5.1" fill="none" stroke="#222" stroke-width="0.7"/>
<text x="356.70" y="287.72" font-size="10.2" text-anchor="start" fill="#000" textLength="42.8" lengthAdjust="spacingAndGlyphs">16 filters</text>
</g>
<g transform="translate(231.7,346.0)">
<path d="M87.60 42.3V306.5M146.24 42.3V306.5M204.88 42.3V306.5M263.52 42.3V306.5M322.16 42.3V306.5M380.80 42.3V306.5M57.8 59.45H413.2M57.8 89.93H413.2M57.8 120.41H413.2M57.8 150.89H413.2M57.8 181.38H413.2M57.8 211.86H413.2M57.8 242.34H413.2M57.8 272.82H413.2M57.8 303.30H413.2" stroke="#b0b0b0" stroke-width="0.8" stroke-dasharray="1,1" fill="none" opacity="0.7"/>
</g>
<g stroke="#000" stroke-width="0.6">
<circle cx="396.5" cy="415.3" r="5.0" fill="#fc8d59"/>
<circle cx="393.0" cy="420.7" r="5.0" fill="#91bfdb"/>
<circle cx="393.0" cy="426.1" r="5.0" fill="#fc8d59"/>
<circle cx="399.9" cy="429.1" r="5.0" fill="#fee090"/>
<circle cx="393.8" cy="431.4" r="5.0" fill="#91bfdb"/>
<circle cx="385.3" cy="433.0" r="5.0" fill="#d73027"/>
<circle cx="393.0" cy="438.7" r="5.0" fill="#d73027"/>
<circle cx="386.9" cy="446.0" r="5.0" fill="#d73027"/>
<circle cx="403.7" cy="447.9" r="5.0" fill="#d73027"/>
<circle cx="379.2" cy="445.2" r="5.0" fill="#d73027"/>
<circle cx="372.3" cy="446.0" r="5.0" fill="#d73027"/>
<circle cx="415.6" cy="422.2" r="5.0" fill="#4575b4"/>
<circle cx="423.7" cy="416.1" r="5.0" fill="#91bfdb"/>
<circle cx="430.2" cy="411.9" r="5.0" fill="#91bfdb"/>
<circle cx="422.5" cy="437.2" r="5.0" fill="#d73027"/>
<circle cx="334.5" cy="475.7" r="5.0" fill="#d73027"/>
<circle cx="337.2" cy="485.6" r="5.0" fill="#d73027"/>
<circle cx="335.7" cy="492.9" r="5.0" fill="#fee090"/>
<circle cx="345.6" cy="470.7" r="5.0" fill="#fc8d59"/>
<circle cx="350.6" cy="464.6" r="5.0" fill="#d73027"/>
<circle cx="349.9" cy="456.5" r="5.0" fill="#d73027"/>
<circle cx="357.5" cy="457.3" r="5.0" fill="#fee090"/>
<circle cx="354.8" cy="471.5" r="5.0" fill="#fee090"/>
<circle cx="354.1" cy="473.4" r="5.0" fill="#fee090"/>
<circle cx="354.5" cy="480.3" r="5.0" fill="#d73027"/>
<circle cx="355.6" cy="488.3" r="5.0" fill="#d73027"/>
<circle cx="367.5" cy="478.4" r="5.0" fill="#d73027"/>
<circle cx="371.0" cy="455.0" r="5.0" fill="#fee090"/>
<circle cx="374.0" cy="454.2" r="5.0" fill="#d73027"/>
<circle cx="386.5" cy="447.0" r="5.0" fill="#d73027"/>
<circle cx="403.8" cy="448.4" r="5.0" fill="#d73027"/>
<circle cx="375.7" cy="453.8" r="5.0" fill="#d73027"/>
<circle cx="383.6" cy="457.3" r="5.0" fill="#d73027"/>
<circle cx="378.2" cy="464.7" r="5.0" fill="#d73027"/>
<circle cx="367.9" cy="478.4" r="5.0" fill="#d73027"/>
<circle cx="422.4" cy="461.2" r="5.0" fill="#4575b4"/>
<circle cx="420.0" cy="489.7" r="5.0" fill="#d73027"/>
<circle cx="384.6" cy="497.1" r="5.0" fill="#4575b4"/>
<circle cx="445.5" cy="448.4" r="5.0" fill="#4575b4"/>
<circle cx="350.3" cy="501.0" r="5.0" fill="#d73027"/>
<circle cx="356.9" cy="518.2" r="5.0" fill="#d73027"/>
<circle cx="356.9" cy="522.8" r="5.0" fill="#d73027"/>
<circle cx="394.4" cy="517.7" r="5.0" fill="#d73027"/>
<circle cx="345.1" cy="544.7" r="5.0" fill="#d73027"/>
<circle cx="362.0" cy="541.6" r="5.0" fill="#d73027"/>
<circle cx="360.4" cy="556.9" r="5.0" fill="#d73027"/>
<circle cx="439.0" cy="546.3" r="5.0" fill="#d73027"/>
<circle cx="326.4" cy="582.0" r="5.0" fill="#d73027"/>
<circle cx="575.1" cy="399.8" r="4.9" fill="#4575b4"/>
<circle cx="446.0" cy="417.5" r="4.9" fill="#d73027"/>
<circle cx="476.0" cy="420.2" r="4.9" fill="#91bfdb"/>
<circle cx="507.3" cy="415.8" r="4.9" fill="#4575b4"/>
<circle cx="521.5" cy="410.9" r="4.9" fill="#4575b4"/>
<circle cx="444.9" cy="447.5" r="4.9" fill="#4575b4"/>
<circle cx="453.8" cy="448.6" r="4.9" fill="#4575b4"/>
<circle cx="474.0" cy="448.6" r="4.9" fill="#4575b4"/>
<circle cx="512.9" cy="441.3" r="4.9" fill="#d73027"/>
<circle cx="525.1" cy="461.7" r="4.9" fill="#d73027"/>
<circle cx="554.4" cy="470.2" r="4.9" fill="#d73027"/>
<circle cx="463.8" cy="484.0" r="4.9" fill="#4575b4"/>
<circle cx="459.5" cy="527.3" r="4.9" fill="#4575b4"/>
<circle cx="373.3" cy="429.1" r="4.5" fill="#e0f3f8"/>
<circle cx="368.7" cy="433.0" r="4.5" fill="#e0f3f8"/>
<circle cx="378.7" cy="430.7" r="4.5" fill="#e0f3f8"/>
<circle cx="370.2" cy="423.8" r="4.5" fill="#fee090"/>
<circle cx="345.7" cy="443.0" r="4.5" fill="#d73027"/>
<circle cx="351.8" cy="438.3" r="4.5" fill="#d73027"/>
<circle cx="357.9" cy="436.8" r="4.5" fill="#d73027"/>
<circle cx="364.1" cy="436.0" r="4.5" fill="#d73027"/>
<circle cx="368.7" cy="439.9" r="4.5" fill="#d73027"/>
<circle cx="361.0" cy="443.0" r="4.5" fill="#d73027"/>
<circle cx="368.7" cy="446.0" r="4.5" fill="#d73027"/>
<circle cx="374.8" cy="445.2" r="4.5" fill="#d73027"/>
<circle cx="380.2" cy="446.0" r="4.5" fill="#d73027"/>
<circle cx="383.3" cy="433.0" r="4.5" fill="#d73027"/>
<circle cx="350.3" cy="447.5" r="4.5" fill="#d73027"/>
<circle cx="355.6" cy="449.1" r="4.5" fill="#d73027"/>
<circle cx="341.8" cy="449.1" r="4.5" fill="#d73027"/>
<circle cx="376.3" cy="452.1" r="4.5" fill="#d73027"/>
<circle cx="384.2" cy="410.7" r="4.5" fill="#e0f3f8"/>
<circle cx="376.9" cy="416.9" r="4.5" fill="#91bfdb"/>
<circle cx="382.3" cy="416.1" r="4.5" fill="#e0f3f8"/>
<circle cx="386.5" cy="419.2" r="4.5" fill="#e0f3f8"/>
<circle cx="371.5" cy="436.8" r="4.5" fill="#d73027"/>
<circle cx="374.6" cy="429.1" r="4.5" fill="#e0f3f8"/>
<circle cx="378.4" cy="432.2" r="4.5" fill="#e0f3f8"/>
<circle cx="370.0" cy="423.0" r="4.5" fill="#fee090"/>
<circle cx="339.5" cy="455.4" r="4.5" fill="#d73027"/>
<circle cx="351.0" cy="448.1" r="4.5" fill="#d73027"/>
<circle cx="342.6" cy="446.5" r="4.5" fill="#d73027"/>
<circle cx="370.3" cy="454.8" r="4.5" fill="#fee090"/>
<circle cx="355.7" cy="490.0" r="4.5" fill="#d73027"/>
<circle cx="381.7" cy="410.7" r="4.0" fill="#e0f3f8"/>
<circle cx="381.7" cy="416.1" r="4.0" fill="#e0f3f8"/>
<circle cx="375.6" cy="416.9" r="4.0" fill="#91bfdb"/>
<circle cx="370.2" cy="420.0" r="4.0" fill="#fc8d59"/>
<circle cx="404.5" cy="431.8" r="4.0" fill="#4575b4"/>
<circle cx="397.6" cy="449.8" r="4.0" fill="#fee090"/>
<circle cx="394.5" cy="452.1" r="4.0" fill="#4575b4"/>
<circle cx="376.1" cy="438.3" r="4.0" fill="#fee090"/>
<circle cx="410.3" cy="414.2" r="4.0" fill="#4575b4"/>
<circle cx="431.0" cy="422.6" r="4.0" fill="#4575b4"/>
<circle cx="361.7" cy="452.3" r="4.0" fill="#91bfdb"/>
<circle cx="346.4" cy="448.8" r="4.0" fill="#fee090"/>
<circle cx="374.0" cy="464.2" r="4.0" fill="#d73027"/>
<circle cx="398.3" cy="449.9" r="4.0" fill="#fee090"/>
<circle cx="381.6" cy="454.3" r="4.0" fill="#e0f3f8"/>
<circle cx="367.1" cy="406.1" r="3.5" fill="#e0f3f8"/>
<circle cx="366.4" cy="411.5" r="3.5" fill="#e0f3f8"/>
<circle cx="357.2" cy="410.0" r="3.5" fill="#e0f3f8"/>
<circle cx="357.9" cy="421.5" r="3.5" fill="#fee090"/>
<circle cx="353.3" cy="425.3" r="3.5" fill="#fee090"/>
<circle cx="351.8" cy="432.2" r="3.5" fill="#fee090"/>
<circle cx="378.7" cy="437.6" r="3.5" fill="#fee090"/>
<circle cx="361.8" cy="443.0" r="3.5" fill="#fee090"/>
<circle cx="343.4" cy="447.5" r="3.5" fill="#fee090"/>
<circle cx="360.2" cy="424.5" r="3.5" fill="#fee090"/>
<circle cx="364.1" cy="422.2" r="3.5" fill="#fee090"/>
<circle cx="352.6" cy="429.9" r="3.5" fill="#fc8d59"/>
<circle cx="361.0" cy="430.7" r="3.5" fill="#fc8d59"/>
<circle cx="361.0" cy="450.6" r="3.5" fill="#fc8d59"/>
<circle cx="344.9" cy="461.5" r="3.5" fill="#fee090"/>
<circle cx="345.6" cy="518.6" r="3.5" fill="#fc8d59"/>
<circle cx="358.0" cy="414.2" r="3.2" fill="#e0f3f8"/>
<circle cx="351.8" cy="416.5" r="3.2" fill="#e0f3f8"/>
<circle cx="346.4" cy="420.7" r="3.0" fill="#e0f3f8"/>
<circle cx="362.5" cy="418.4" r="3.0" fill="#fee090"/>
<circle cx="347.2" cy="426.1" r="3.0" fill="#fee090"/>
<circle cx="344.1" cy="432.2" r="3.0" fill="#fee090"/>
<circle cx="338.0" cy="429.1" r="3.0" fill="#fee090"/>
<circle cx="333.4" cy="433.0" r="3.0" fill="#fee090"/>
<circle cx="330.3" cy="436.8" r="3.0" fill="#fee090"/>
<circle cx="334.9" cy="438.3" r="3.0" fill="#fee090"/>
<circle cx="340.3" cy="436.0" r="3.0" fill="#fee090"/>
<circle cx="338.8" cy="441.4" r="3.0" fill="#fee090"/>
<circle cx="331.9" cy="444.5" r="3.0" fill="#fee090"/>
<circle cx="328.0" cy="449.8" r="3.0" fill="#fee090"/>
<circle cx="336.5" cy="445.2" r="3.0" fill="#fee090"/>
<circle cx="381.5" cy="423.8" r="3.0" fill="#fee090"/>
<circle cx="322.6" cy="446.5" r="3.0" fill="#fee090"/>
<circle cx="343.3" cy="457.3" r="3.0" fill="#fc8d59"/>
<circle cx="343.7" cy="419.3" r="3.0" fill="#fee090"/>
<circle cx="338.3" cy="427.7" r="3.0" fill="#fee090"/>
<circle cx="347.7" cy="427.0" r="3.0" fill="#fee090"/>
<circle cx="351.7" cy="423.3" r="3.0" fill="#fee090"/>
<circle cx="331.7" cy="432.7" r="3.0" fill="#fee090"/>
<circle cx="339.7" cy="432.0" r="3.0" fill="#fee090"/>
<circle cx="348.3" cy="432.7" r="3.0" fill="#fee090"/>
<circle cx="347.2" cy="413.8" r="2.8" fill="#e0f3f8"/>
<circle cx="339.0" cy="422.3" r="2.8" fill="#fee090"/>
<circle cx="335.0" cy="422.0" r="2.7" fill="#e0f3f8" stroke="#e0303a" stroke-width="0.9"/>
<circle cx="322.7" cy="446.0" r="2.5" fill="#fee090"/>
<circle cx="367.1" cy="429.1" r="2.5" fill="#91bfdb"/>
<circle cx="409.1" cy="438.7" r="2.5" fill="#e0f3f8"/>
<circle cx="424.8" cy="420.1" r="2.5" fill="#4575b4"/>
<circle cx="328.8" cy="449.2" r="2.5" fill="#fee090"/>
<circle cx="325.3" cy="453.4" r="2.5" fill="#fee090"/>
<circle cx="325.7" cy="459.2" r="2.5" fill="#fee090"/>
<circle cx="321.9" cy="478.7" r="2.5" fill="#fee090"/>
<circle cx="331.1" cy="471.1" r="2.5" fill="#d73027"/>
<circle cx="334.1" cy="458.4" r="2.5" fill="#fee090"/>
<circle cx="338.7" cy="458.4" r="2.5" fill="#fee090"/>
<circle cx="338.7" cy="463.8" r="2.5" fill="#e0f3f8"/>
<circle cx="394.9" cy="451.9" r="2.5" fill="#4575b4"/>
<circle cx="336.2" cy="535.7" r="2.5" fill="#e0f3f8"/>
<circle cx="347.3" cy="414.3" r="2.5" fill="#e0f3f8"/>
<circle cx="347.7" cy="420.7" r="2.5" fill="#e0f3f8"/>
<circle cx="352.3" cy="416.3" r="2.5" fill="#e0f3f8"/>
<circle cx="376.7" cy="493.2" r="2.2" fill="#91bfdb"/>
<circle cx="340.7" cy="425.0" r="2.2" fill="#e0f3f8"/>
<circle cx="343.0" cy="422.7" r="2.2" fill="#e0f3f8"/>
<circle cx="341.3" cy="428.7" r="2.2" fill="#e0f3f8"/>
<circle cx="343.7" cy="429.3" r="2.2" fill="#e0f3f8"/>
<circle cx="341.8" cy="423.8" r="2.0" fill="#e0f3f8"/>
<circle cx="358.0" cy="416.9" r="2.0" fill="#fc8d59"/>
<circle cx="374.8" cy="439.9" r="2.0" fill="#4575b4"/>
<circle cx="382.5" cy="426.1" r="2.0" fill="#4575b4"/>
<circle cx="374.6" cy="439.5" r="2.0" fill="#4575b4"/>
<circle cx="383.4" cy="426.1" r="2.0" fill="#4575b4"/>
<circle cx="312.7" cy="473.4" r="2.0" fill="#fee090"/>
<circle cx="324.2" cy="471.8" r="2.0" fill="#fee090"/>
<circle cx="342.6" cy="495.2" r="2.0" fill="#fee090"/>
<circle cx="343.3" cy="484.5" r="2.0" fill="#e0f3f8"/>
<circle cx="336.1" cy="465.3" r="2.0" fill="#fee090"/>
<circle cx="344.9" cy="477.2" r="2.0" fill="#e0f3f8"/>
<circle cx="357.5" cy="487.2" r="2.0" fill="#4575b4"/>
<circle cx="356.4" cy="490.6" r="2.0" fill="#91bfdb"/>
<circle cx="379.7" cy="463.2" r="2.0" fill="#e0f3f8"/>
<circle cx="320.5" cy="515.1" r="2.0" fill="#d73027"/>
<circle cx="363.9" cy="517.0" r="2.0" fill="#4575b4"/>
<circle cx="319.3" cy="531.5" r="2.0" fill="#fee090"/>
<circle cx="337.7" cy="431.7" r="2.0" fill="#e0f3f8"/>
<circle cx="343.0" cy="487.2" r="1.5" fill="#4575b4"/>
<circle cx="346.0" cy="488.3" r="1.5" fill="#fee090"/>
<circle cx="355.6" cy="466.1" r="1.5" fill="#4575b4"/>
<circle cx="368.8" cy="497.3" r="1.5" fill="#91bfdb"/>
<circle cx="333.4" cy="522.4" r="1.5" fill="#91bfdb"/>
<circle cx="328.7" cy="544.7" r="1.5" fill="#d73027"/>
<circle cx="338.6" cy="630.1" r="1.5" fill="#4575b4"/>
<circle cx="318.9" cy="640.6" r="1.5" fill="#e0f3f8"/>
<circle cx="430.3" cy="481.6" r="1.3" fill="#4575b4"/>
<circle cx="395.4" cy="507.7" r="1.3" fill="#fee090"/>
<circle cx="344.7" cy="506.4" r="1.3" fill="#fee090"/>
<circle cx="369.1" cy="544.0" r="1.3" fill="#4575b4"/>
</g>
<g transform="translate(231.7,346.0)">
<rect x="57.8" y="42.3" width="355.40" height="264.20" fill="none" stroke="#333" stroke-width="1.1"/>
<path d="M87.60 306.5V310.0M146.24 306.5V310.0M204.88 306.5V310.0M263.52 306.5V310.0M322.16 306.5V310.0M380.80 306.5V310.0M57.8 59.45H54.3M57.8 89.93H54.3M57.8 120.41H54.3M57.8 150.89H54.3M57.8 181.38H54.3M57.8 211.86H54.3M57.8 242.34H54.3M57.8 272.82H54.3M57.8 303.30H54.3" stroke="#333" stroke-width="1" fill="none"/>
<text x="87.60" y="320.90" font-size="10.2" text-anchor="middle" fill="#000" textLength="30.6" lengthAdjust="spacingAndGlyphs">40000</text>
<text x="146.24" y="320.90" font-size="10.2" text-anchor="middle" fill="#000" textLength="30.6" lengthAdjust="spacingAndGlyphs">60000</text>
<text x="204.88" y="320.90" font-size="10.2" text-anchor="middle" fill="#000" textLength="30.6" lengthAdjust="spacingAndGlyphs">80000</text>
<text x="263.52" y="320.90" font-size="10.2" text-anchor="middle" fill="#000" textLength="37.0" lengthAdjust="spacingAndGlyphs">100000</text>
<text x="322.16" y="320.90" font-size="10.2" text-anchor="middle" fill="#000" textLength="37.0" lengthAdjust="spacingAndGlyphs">120000</text>
<text x="380.80" y="320.90" font-size="10.2" text-anchor="middle" fill="#000" textLength="37.0" lengthAdjust="spacingAndGlyphs">140000</text>
<text x="51.10" y="62.85" font-size="10.2" text-anchor="end" fill="#000" textLength="27.6" lengthAdjust="spacingAndGlyphs">0.950</text>
<text x="51.10" y="93.33" font-size="10.2" text-anchor="end" fill="#000" textLength="27.6" lengthAdjust="spacingAndGlyphs">0.925</text>
<text x="51.10" y="123.81" font-size="10.2" text-anchor="end" fill="#000" textLength="27.6" lengthAdjust="spacingAndGlyphs">0.900</text>
<text x="51.10" y="154.29" font-size="10.2" text-anchor="end" fill="#000" textLength="27.6" lengthAdjust="spacingAndGlyphs">0.875</text>
<text x="51.10" y="184.78" font-size="10.2" text-anchor="end" fill="#000" textLength="27.6" lengthAdjust="spacingAndGlyphs">0.850</text>
<text x="51.10" y="215.26" font-size="10.2" text-anchor="end" fill="#000" textLength="27.6" lengthAdjust="spacingAndGlyphs">0.825</text>
<text x="51.10" y="245.74" font-size="10.2" text-anchor="end" fill="#000" textLength="27.6" lengthAdjust="spacingAndGlyphs">0.800</text>
<text x="51.10" y="276.22" font-size="10.2" text-anchor="end" fill="#000" textLength="27.6" lengthAdjust="spacingAndGlyphs">0.775</text>
<text x="51.10" y="306.70" font-size="10.2" text-anchor="end" fill="#000" textLength="27.6" lengthAdjust="spacingAndGlyphs">0.750</text>
<text x="235.50" y="334.50" font-size="10.2" text-anchor="middle" fill="#000" textLength="43.6" lengthAdjust="spacingAndGlyphs">total bits</text>
<text x="0" y="0" font-size="10.2" text-anchor="middle" textLength="96" lengthAdjust="spacingAndGlyphs" transform="translate(16.0,174.5) rotate(-90)">validation accuracy</text>
<text x="235.50" y="36.00" font-size="12.2" text-anchor="middle" fill="#000" textLength="40.6" lengthAdjust="spacingAndGlyphs">Conv 2</text>
<rect x="337" y="77.5" width="69.5" height="31" fill="#fff"/>
<g fill="none" stroke="#d9d9d9" stroke-width="0.9">
<rect x="362.5" y="82.6" width="21.1" height="21.1" rx="3"/>
<rect x="365.3" y="85.2" width="15.8" height="15.6" rx="2"/>
<path d="M367.6 78.7V81.9M370.9 78.7V81.9M374.4 78.7V81.9M378 78.7V81.9M367.6 104.9V107.8M370.9 104.9V107.8M374.4 104.9V107.8M378 104.9V107.8M340.3 101.1H361.4M384.8 84.6H402.7"/>
<circle cx="339.1" cy="101.1" r="1.2"/><circle cx="403.9" cy="84.6" r="1.2"/>
</g>
<text x="341.9" y="98.6" font-size="15.8" font-weight="bold" fill="#a4299d" textLength="19.5" lengthAdjust="spacingAndGlyphs">hls</text>
<text x="368" y="98.6" font-size="15.2" font-weight="bold" fill="#6a22a0" textLength="9" lengthAdjust="spacingAndGlyphs">4</text>
<text x="384.8" y="98.6" font-size="15.8" font-weight="bold" fill="#1f2b94" textLength="16.3" lengthAdjust="spacingAndGlyphs">ml</text>
<path d="M73.1 76.4H93" stroke="#ff0000" stroke-width="1.6" fill="none"/>
<path d="M92 72.3L98.6 76.4L92 80.5Z" fill="#ff0000"/>
<rect x="235.7" y="203.3" width="72" height="89.9" rx="2" fill="#fff" fill-opacity="0.8" stroke="#ccc" stroke-width="0.8"/>
<rect x="239.1" y="207.00" width="21" height="7.8" fill="#d73027"/>
<text x="267.60" y="214.90" font-size="10.2" text-anchor="start" fill="#000" textLength="30.6" lengthAdjust="spacingAndGlyphs">binary</text>
<rect x="239.1" y="221.62" width="21" height="7.8" fill="#fc8d59"/>
<text x="267.60" y="229.52" font-size="10.2" text-anchor="start" fill="#000" textLength="36.5" lengthAdjust="spacingAndGlyphs">ternary</text>
<rect x="239.1" y="236.24" width="21" height="7.8" fill="#fee090"/>
<text x="267.60" y="244.14" font-size="10.2" text-anchor="start" fill="#000" textLength="6.3" lengthAdjust="spacingAndGlyphs">2</text>
<rect x="239.1" y="250.86" width="21" height="7.8" fill="#e0f3f8"/>
<text x="267.60" y="258.76" font-size="10.2" text-anchor="start" fill="#000" textLength="6.3" lengthAdjust="spacingAndGlyphs">4</text>
<rect x="239.1" y="265.48" width="21" height="7.8" fill="#91bfdb"/>
<text x="267.60" y="273.38" font-size="10.2" text-anchor="start" fill="#000" textLength="6.3" lengthAdjust="spacingAndGlyphs">6</text>
<rect x="239.1" y="280.10" width="21" height="7.8" fill="#4575b4"/>
<text x="267.60" y="288.00" font-size="10.2" text-anchor="start" fill="#000" textLength="6.3" lengthAdjust="spacingAndGlyphs">8</text>
<rect x="324.8" y="188.6" width="79.4" height="104.6" rx="2" fill="#fff" fill-opacity="0.8" stroke="#ccc" stroke-width="0.8"/>
<circle cx="337.8" cy="196.50" r="1.7" fill="none" stroke="#222" stroke-width="0.7"/>
<text x="356.70" y="200.00" font-size="10.2" text-anchor="start" fill="#000" textLength="36.5" lengthAdjust="spacingAndGlyphs">6 filters</text>
<circle cx="337.8" cy="211.12" r="2.1" fill="none" stroke="#222" stroke-width="0.7"/>
<text x="356.70" y="214.62" font-size="10.2" text-anchor="start" fill="#000" textLength="36.5" lengthAdjust="spacingAndGlyphs">9 filters</text>
<circle cx="337.8" cy="225.74" r="2.8" fill="none" stroke="#222" stroke-width="0.7"/>
<text x="356.70" y="229.24" font-size="10.2" text-anchor="start" fill="#000" textLength="42.8" lengthAdjust="spacingAndGlyphs">12 filters</text>
<circle cx="337.8" cy="240.36" r="3.4" fill="none" stroke="#222" stroke-width="0.7"/>
<text x="356.70" y="243.86" font-size="10.2" text-anchor="start" fill="#000" textLength="42.8" lengthAdjust="spacingAndGlyphs">15 filters</text>
<circle cx="337.8" cy="254.98" r="3.9" fill="none" stroke="#222" stroke-width="0.7"/>
<text x="356.70" y="258.48" font-size="10.2" text-anchor="start" fill="#000" textLength="42.8" lengthAdjust="spacingAndGlyphs">18 filters</text>
<circle cx="337.8" cy="269.60" r="4.5" fill="none" stroke="#222" stroke-width="0.7"/>
<text x="356.70" y="273.10" font-size="10.2" text-anchor="start" fill="#000" textLength="42.8" lengthAdjust="spacingAndGlyphs">21 filters</text>
<circle cx="337.8" cy="284.22" r="5.1" fill="none" stroke="#222" stroke-width="0.7"/>
<text x="356.70" y="287.72" font-size="10.2" text-anchor="start" fill="#000" textLength="42.8" lengthAdjust="spacingAndGlyphs">24 filters</text>
</g>
</svg>
</body></html>
